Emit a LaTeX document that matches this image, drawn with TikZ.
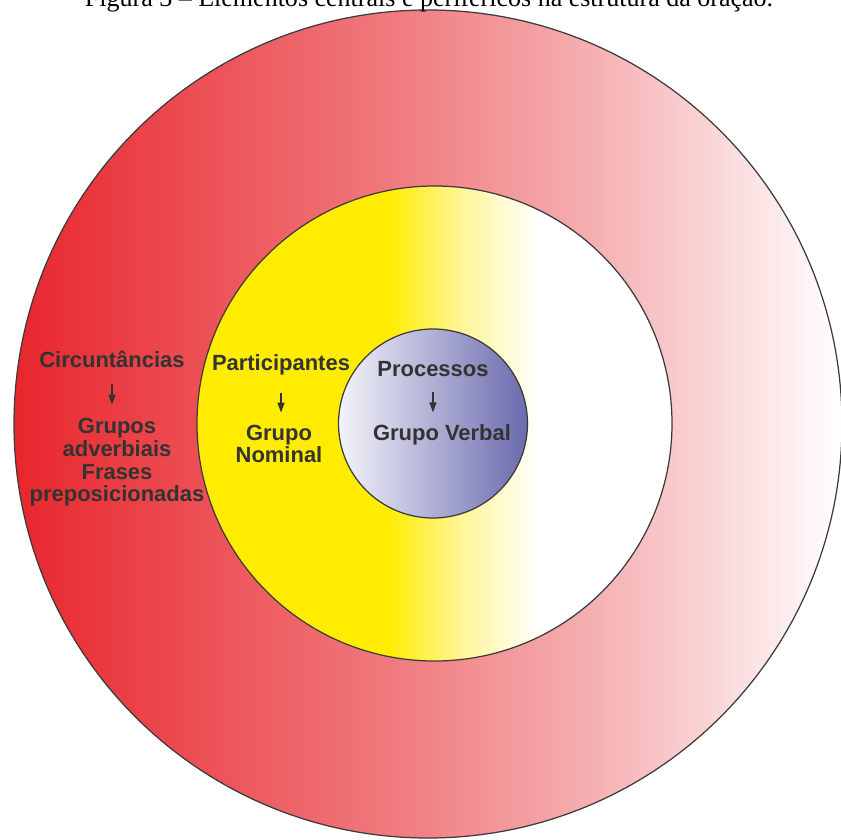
\documentclass[tikz,border=0pt]{standalone}
\usepackage{fontspec}
\setmainfont{Liberation Sans}
\newfontfamily\legendafont{Liberation Serif}
\usepackage{xcolor}
\usetikzlibrary{calc,arrows.meta}

\definecolor{vermelho}{HTML}{E8262D}
\definecolor{rosa}{HTML}{F07B7E}
\definecolor{rosaclaro}{HTML}{F5B0B2}
\definecolor{amarelo}{HTML}{FFEC00}
\definecolor{amareloclaro}{HTML}{FFF59A}
\definecolor{lilasclaro}{HTML}{F4F4FA}
\definecolor{lilas}{HTML}{6A6AAE}
\definecolor{contorno}{HTML}{3A3A3A}
\definecolor{cinza}{HTML}{333333}

\pgfdeclarehorizontalshading{anelvermelho}{100bp}{color(0bp)=(vermelho); color(25bp)=(vermelho); color(48bp)=(rosa); color(60bp)=(rosaclaro); color(75bp)=(white); color(100bp)=(white)}
\pgfdeclarehorizontalshading{anelamarelo}{100bp}{color(0bp)=(amarelo); color(45bp)=(amarelo); color(53bp)=(amareloclaro); color(61bp)=(white); color(100bp)=(white)}

\tikzset{
  rotulo/.style={font=\bfseries\fontsize{12.5}{12.9}\selectfont, text=cinza, inner sep=0pt, align=center},
  seta/.style={-{Triangle[length=2mm,width=1.4mm]}, line width=0.8pt, draw=cinza},
  anel/.style={draw=contorno, line width=0.7pt}
}

\begin{document}
\begin{tikzpicture}[x=0.2mm,y=0.2mm]
\useasboundingbox (0,0) rectangle (841,839);
\shade[anel, shading=anelvermelho] (428,415) circle [radius=414];
\shade[anel, shading=anelamarelo] (434.5,415.5) circle [radius=237.5];
\shade[anel, left color=lilasclaro, right color=lilas] (433,415.5) circle [radius=94.5];

\node[font=\legendafont\fontsize{14.8}{17}\selectfont, anchor=base] (legenda) at (429,832) {Figura 3 – Elementos centrais e periféricos na estrutura da oração.};

\node[rotulo] (circ) at (112,480) {Circuntâncias};
\node[rotulo] (grupos) at (117,376.5) {Grupos\\adverbiais\\Frases\\preposicionadas};
\node[rotulo] (part) at (281,474) {Participantes};
\node[rotulo] (nominal) at (279,395) {Grupo\\Nominal};
\node[rotulo] (proc) at (433,470) {Processos};
\node[rotulo] (verbal) at (442,404) {Grupo Verbal};

\draw[seta, shorten <=3.2mm, shorten >=2.7mm] (circ.south) -- (circ.south |- grupos.north);
\draw[seta, shorten <=3.4mm, shorten >=2.4mm] (part.south) -- (part.south |- nominal.north);
\draw[seta, shorten <=3mm, shorten >=2.4mm] (proc.south) -- (proc.south |- verbal.north);
\end{tikzpicture}
\end{document}
